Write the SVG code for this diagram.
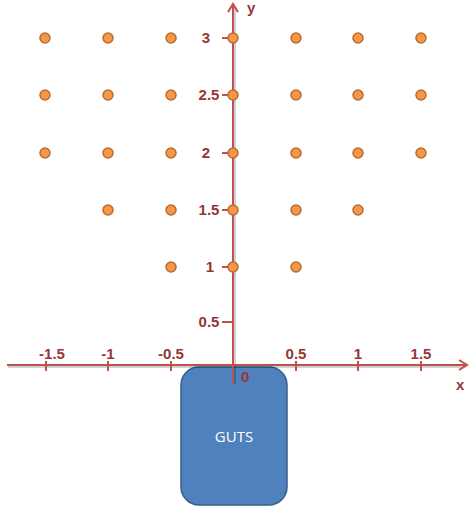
<svg xmlns="http://www.w3.org/2000/svg" width="470" height="512" viewBox="0 0 470 512">
<style>
.ax{stroke:#C0504D;stroke-width:2;fill:none}
.sh{stroke:#000;stroke-opacity:0.18;stroke-width:2;fill:none}
.lbl{font-family:"Liberation Sans",Arial,sans-serif;font-weight:bold;font-size:15px;fill:#953735}
.ylbl{text-anchor:middle}
.xlbl{text-anchor:middle}
.dot{fill:#F79646;stroke:#B66D31;stroke-width:1.5}
</style>
<defs>
<marker id="arr" viewBox="0 0 12 12" refX="10" refY="6" markerWidth="12" markerHeight="12" orient="auto" markerUnits="userSpaceOnUse">
<path d="M2,1 L10,6 L2,11" fill="none" stroke="#C0504D" stroke-width="2"/>
</marker>
</defs>
<g id="guts">
<rect x="181" y="367" width="106" height="138" rx="18" ry="18" fill="#4F81BD" stroke="#385D8A" stroke-width="1.5"/>
<text x="234" y="442" text-anchor="middle" font-family="'Open Sans','Liberation Sans',sans-serif" font-size="15" fill="#FFFFFF">GUTS</text>
</g>
<g id="connectors">
<line class="sh" x1="8" y1="367" x2="464" y2="367"/>
<line class="sh" x1="235" y1="8" x2="235" y2="384"/>
<line class="ax" x1="7" y1="365" x2="467" y2="365" marker-end="url(#arr)"/>
<line class="ax" x1="233" y1="383" x2="233" y2="4" marker-end="url(#arr)"/>
<path class="ax" d="M46,361 V371 M108,361 V371 M171,361 V371 M296,361 V371 M358,361 V371 M421,361 V371"/>
<path class="ax" d="M222,38 H233 M222,95 H233 M222,153 H233 M222,210 H233 M222,267 H233 M222,322 H233"/>
</g>
<g id="labels">
<text class="lbl" x="247" y="13">y</text>
<text class="lbl" x="456" y="390">x</text>
<text class="lbl" x="241" y="382">0</text>
<text class="lbl xlbl" x="52" y="359">-1.5</text>
<text class="lbl xlbl" x="108" y="359">-1</text>
<text class="lbl xlbl" x="171" y="359">-0.5</text>
<text class="lbl xlbl" x="296" y="359">0.5</text>
<text class="lbl xlbl" x="358" y="359">1</text>
<text class="lbl xlbl" x="421" y="359">1.5</text>
<text class="lbl ylbl" x="206" y="43">3</text>
<text class="lbl ylbl" x="209" y="100">2.5</text>
<text class="lbl ylbl" x="206" y="158">2</text>
<text class="lbl ylbl" x="209" y="215">1.5</text>
<text class="lbl ylbl" x="210" y="272">1</text>
<text class="lbl ylbl" x="209" y="327">0.5</text>
</g>
<g id="dots">
<circle class="dot" cx="45" cy="38" r="5"/><circle class="dot" cx="108" cy="38" r="5"/><circle class="dot" cx="171" cy="38" r="5"/><circle class="dot" cx="233" cy="38" r="5"/><circle class="dot" cx="296" cy="38" r="5"/><circle class="dot" cx="358" cy="38" r="5"/><circle class="dot" cx="421" cy="38" r="5"/>
<circle class="dot" cx="45" cy="95" r="5"/><circle class="dot" cx="108" cy="95" r="5"/><circle class="dot" cx="171" cy="95" r="5"/><circle class="dot" cx="233" cy="95" r="5"/><circle class="dot" cx="296" cy="95" r="5"/><circle class="dot" cx="358" cy="95" r="5"/><circle class="dot" cx="421" cy="95" r="5"/>
<circle class="dot" cx="45" cy="153" r="5"/><circle class="dot" cx="108" cy="153" r="5"/><circle class="dot" cx="171" cy="153" r="5"/><circle class="dot" cx="233" cy="153" r="5"/><circle class="dot" cx="296" cy="153" r="5"/><circle class="dot" cx="358" cy="153" r="5"/><circle class="dot" cx="421" cy="153" r="5"/>
<circle class="dot" cx="108" cy="210" r="5"/><circle class="dot" cx="171" cy="210" r="5"/><circle class="dot" cx="233" cy="210" r="5"/><circle class="dot" cx="296" cy="210" r="5"/><circle class="dot" cx="358" cy="210" r="5"/>
<circle class="dot" cx="171" cy="267" r="5"/><circle class="dot" cx="233" cy="267" r="5"/><circle class="dot" cx="296" cy="267" r="5"/>
</g>
</svg>
